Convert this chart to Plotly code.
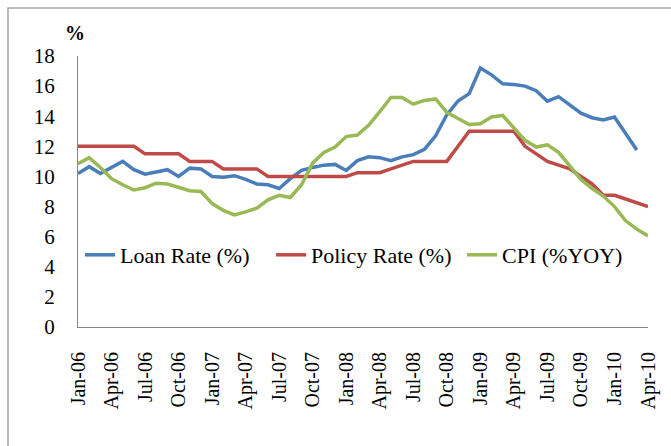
import plotly.graph_objects as go

month_names = ["Jan", "Feb", "Mar", "Apr", "May", "Jun", "Jul", "Aug", "Sep", "Oct", "Nov", "Dec"]
months = [f"{m}-{y:02d}" for y in range(6, 11) for m in month_names][:52]
tick_labels = ["Jan-06", "Apr-06", "Jul-06", "Oct-06", "Jan-07", "Apr-07", "Jul-07", "Oct-07",
               "Jan-08", "Apr-08", "Jul-08", "Oct-08", "Jan-09", "Apr-09", "Jul-09", "Oct-09",
               "Jan-10", "Apr-10"]

loan_rate = [10.2, 10.65, 10.2, 10.6, 11.0, 10.45, 10.15, 10.3, 10.45, 10.0, 10.55, 10.5,
             10.0, 9.95, 10.05, 9.8, 9.5, 9.45, 9.2, 9.85, 10.4, 10.6, 10.75, 10.8,
             10.4, 11.05, 11.3, 11.25, 11.05, 11.3, 11.45, 11.8, 12.7, 14.1, 15.0, 15.5,
             17.2, 16.75, 16.15, 16.1, 16.0, 15.7, 15.0, 15.3, 14.75, 14.2, 13.9, 13.75,
             13.95, 12.85, 11.75, None]

policy_rate = [12, 12, 12, 12, 12, 12, 11.5, 11.5, 11.5, 11.5, 11, 11,
               11, 10.5, 10.5, 10.5, 10.5, 10, 10, 10, 10, 10, 10, 10,
               10, 10.25, 10.25, 10.25, 10.5, 10.75, 11, 11, 11, 11, 12, 13,
               13, 13, 13, 13, 12, 11.5, 11, 10.75, 10.5, 10, 9.5, 8.75,
               8.75, 8.5, 8.25, 8]

cpi = [10.85, 11.25, 10.6, 9.85, 9.45, 9.1, 9.25, 9.55, 9.5, 9.25, 9.05, 9.0,
       8.2, 7.75, 7.45, 7.65, 7.9, 8.45, 8.75, 8.6, 9.45, 10.9, 11.6, 11.95,
       12.65, 12.75, 13.4, 14.3, 15.25, 15.25, 14.8, 15.05, 15.15, 14.25, 13.85, 13.45,
       13.5, 13.95, 14.05, 13.2, 12.4, 11.95, 12.1, 11.6, 10.7, 9.8, 9.2, 8.7,
       8.0, 7.05, 6.5, 6.05]

y_ticks = [0, 2, 4, 6, 8, 10, 12, 14, 16, 18]

FONT = "Liberation Serif"

fig = go.Figure()
fig.add_trace(go.Scatter(x=months, y=loan_rate, mode="lines", name="Loan Rate (%)",
                         line=dict(color="#4A7EBB", width=3.5)))
fig.add_trace(go.Scatter(x=months, y=policy_rate, mode="lines", name="Policy Rate (%)",
                         line=dict(color="#BE4B48", width=3.5)))
fig.add_trace(go.Scatter(x=months, y=cpi, mode="lines", name="CPI (%YOY)",
                         line=dict(color="#98B954", width=3.5)))

L, R, T, B = 78, 23, 56, 119
W, H = 671, 446
pw, ph = W - L - R, H - T - B

def px_x(p):
    return (p - L) / pw

def px_y(p):
    return (H - B - p) / ph

fig.update_layout(
    width=W, height=H,
    margin=dict(l=L, r=R, t=T, b=B, pad=0),
    paper_bgcolor="white", plot_bgcolor="white",
    font=dict(family=FONT, size=21, color="black"),
    showlegend=True,
    legend=dict(orientation="h", x=px_x(80), xanchor="left", y=px_y(255), yanchor="middle",
                bgcolor="rgba(0,0,0,0)", font=dict(family=FONT, size=22),
                itemwidth=30, tracegroupgap=0, entrywidth=146, entrywidthmode="pixels"),
    xaxis=dict(type="category", range=[0, len(months) - 1], tickmode="array",
               tickvals=tick_labels, ticktext=tick_labels, tickangle=-90, automargin=False,
               showgrid=False, zeroline=False, showline=True, linecolor="#868686", linewidth=1,
               ticks="", ticklabelstandoff=16, tickfont=dict(family=FONT, size=20)),
    yaxis=dict(range=[0, 18], tickmode="array", tickvals=y_ticks, automargin=False,
               showgrid=False, zeroline=False, showline=True, linecolor="#868686", linewidth=1,
               ticks="", ticklabelstandoff=18, tickfont=dict(family=FONT, size=21)),
    shapes=[dict(type="rect", xref="paper", yref="paper",
                 x0=px_x(8), x1=px_x(690), y0=px_y(470), y1=px_y(8),
                 line=dict(color="#A6A6A6", width=1.5), fillcolor="rgba(0,0,0,0)", layer="below")],
    annotations=[dict(text="<b>%</b>", xref="paper", yref="paper", x=px_x(75), y=px_y(33),
                      xanchor="center", yanchor="middle", showarrow=False,
                      font=dict(family=FONT, size=20, color="black"))],
)

html = fig.to_html(full_html=True, include_plotlyjs=True, config={"displayModeBar": False})
html = html.replace("<head>", "<head><style>html,body{margin:0;padding:0;overflow:hidden;}</style>", 1)
with open("out.html", "w", encoding="utf-8") as f:
    f.write(html)
